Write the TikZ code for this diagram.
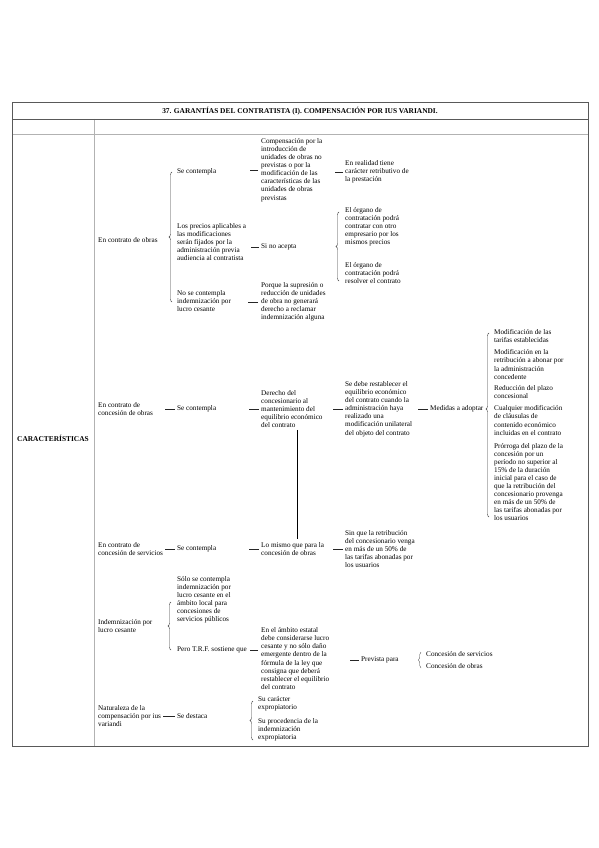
\documentclass[tikz,border=0pt]{standalone}
\usepackage{fontspec}
\setmainfont{Liberation Serif}
\usetikzlibrary{decorations.pathreplacing,calc}
\begin{document}
\begin{tikzpicture}[x=1pt,y=-1pt,
  txt/.style={font=\fontsize{7.2}{8.1}\selectfont, inner sep=0pt, anchor=west, align=left},
  hd/.style={font=\bfseries\fontsize{7.4}{9}\selectfont, inner sep=0pt},
  stub/.style={draw=black!85, line width=0.5pt},
  brc/.style={draw=black!75, line width=0.4pt, decorate, decoration={brace, amplitude=3pt}},
  frame/.style={draw=black!65, line width=0.7pt},
  grid/.style={draw=black!30, line width=0.5pt},
  vline/.style={draw=black, line width=1pt}]
\useasboundingbox (0,0) rectangle (599,848);
\fill[white] (0,0) rectangle (599,848);
% table
\draw[grid] (94,119) -- (94,746);
\draw[grid] (12,134) -- (588,134);
\draw[frame] (12,119) -- (588,119);
\draw[frame] (12,102) rectangle (588,746);
\node[hd] (title) at (300,111) {37. GARANTÍAS DEL CONTRATISTA (I). COMPENSACIÓN POR IUS VARIANDI.};
\node[hd, anchor=west] (car) at (17,438) {CARACTERÍSTICAS};

% ---- Row 1
\node[txt] (r1) at (98,240) {En contrato de obras};
\node[txt] (r1a) at (177,172) {Se contempla};
\node[txt] (r1b) at (177,242) {Los precios aplicables a\\las modificaciones\\serán fijados por la\\administración previa\\audiencia al contratista};
\node[txt] (r1c) at (177,301) {No se contempla\\indemnización por\\lucro cesante};
\coordinate (b1s) at (172,302); \coordinate (b1e) at (172,172);
\draw[brc] (b1s) -- (b1e);
\node[txt] (r1a1) at (261,170) {Compensación por la\\introducción de\\unidades de obras no\\previstas o por la\\modificación de las\\características de las\\unidades de obras\\previstas};
\draw[stub] ([xshift=-3pt]r1a1.west) -- ++(-8,0);
\node[txt] (r1a2) at (345,172) {En realidad tiene\\carácter retributivo de\\la prestación};
\draw[stub] ([xshift=-2pt]r1a2.west) -- ++(-8,0);
\node[txt] (r1b1) at (261,247) {Si no acepta};
\draw[stub] ([xshift=-2pt]r1b1.west) -- ++(-8,0);
\node[txt] (o1) at (345,227) {El órgano de\\contratación podrá\\contratar con otro\\empresario por los\\mismos precios};
\node[txt] (o2) at (345,273) {El órgano de\\contratación podrá\\resolver el contrato};
\coordinate (b2s) at (339,281); \coordinate (b2e) at (339,212);
\draw[brc] (b2s) -- (b2e);
\node[txt] (r1c1) at (261,302) {Porque la supresión o\\reducción de unidades\\de obra no generará\\derecho a reclamar\\indemnización alguna};
\draw[stub] ([xshift=-3pt]r1c1.west) -- ++(-10,0);

% ---- Row 2
\node[txt] (r2) at (98,409) {En contrato de\\concesión de obras};
\node[txt] (r2a) at (177,409) {Se contempla};
\draw[stub] ([xshift=-2pt]r2a.west) -- ++(-10,0);
\node[txt] (r2b) at (261,409) {Derecho del\\concesionario al\\mantenimiento del\\equilibrio económico\\del contrato};
\draw[stub] ([xshift=-2pt]r2b.west) -- ++(-10,0);
\node[txt] (r2c) at (345,409) {Se debe restablecer el\\equilibrio económico\\del contrato cuando la\\administración haya\\realizado una\\modificación unilateral\\del objeto del contrato};
\draw[stub] ([xshift=-2pt]r2c.west) -- ++(-10,0);
\node[txt] (r2d) at (430,409) {Medidas a adoptar};
\draw[stub] ([xshift=-2pt]r2d.west) -- ++(-10,0);
\coordinate (b3s) at (489,517); \coordinate (b3e) at (489,333);
\draw[brc, decoration={brace, amplitude=3pt, aspect=0.587}] (b3s) -- (b3e);
\node[txt] (m1) at (494,336) {Modificación de las\\tarifas establecidas};
\node[txt] (m2) at (494,364.5) {Modificación en la\\retribución a abonar por\\la administración\\concedente};
\node[txt] (m3) at (494,392) {Reducción del plazo\\concesional};
\node[txt] (m4) at (494,420.5) {Cualquier modificación\\de cláusulas de\\contenido económico\\incluidas en el contrato};
\node[txt] (m5) at (494,482) {Prórroga del plazo de la\\concesión por un\\período no superior al\\15\% de la duración\\inicial para el caso de\\que la retribución del\\concesionario provenga\\en más de un 50\% de\\las tarifas abonadas por\\los usuarios};

% ---- Row 3
\node[txt] (r3) at (98,549) {En contrato de\\concesión de servicios};
\node[txt] (r3a) at (177,549) {Se contempla};
\draw[stub] ([xshift=-2pt]r3a.west) -- ++(-10,0);
\node[txt] (r3b) at (261,549) {Lo mismo que para la\\concesión de obras};
\draw[stub] ([xshift=-2pt]r3b.west) -- ++(-10,0);
\node[txt] (r3c) at (345,549) {Sin que la retribución\\del concesionario venga\\en más de un 50\% de\\las tarifas abonadas por\\los usuarios};
\draw[stub] ([xshift=-2pt]r3c.west) -- ++(-10,0);
\coordinate (vx) at (297,0);
\draw[vline] ([yshift=-2pt]r2b.south -| vx) -- ([yshift=3pt]r3b.north -| vx);

% ---- Row 4
\node[txt] (r4) at (98,626) {Indemnización por\\lucro cesante};
\node[txt] (r4a) at (177,600) {Sólo se contempla\\indemnización por\\lucro cesante en el\\ámbito local para\\concesiones de\\servicios públicos};
\node[txt] (r4b) at (177,650) {Pero T.R.F. sostiene que};
\coordinate (b4s) at (171,650); \coordinate (b4e) at (171,602);
\draw[brc] (b4s) -- (b4e);
\node[txt] (r4c) at (261,658.5) {En el ámbito estatal\\debe considerarse lucro\\cesante y no sólo daño\\emergente dentro de la\\fórmula de la ley que\\consigna que deberá\\restablecer el equilibrio\\del contrato};
\coordinate (r4cs) at (258,650);
\draw[stub] (r4cs) -- ++(-8,0);
\node[txt] (r4d) at (361,660) {Prevista para};
\draw[stub] ([xshift=-2pt]r4d.west) -- ++(-9,0);
\node[txt] (cs) at (426,654) {Concesión de servicios};
\node[txt] (co) at (426,666) {Concesión de obras};
\coordinate (b5s) at (421,668); \coordinate (b5e) at (421,652);
\draw[brc, decoration={brace, amplitude=2.5pt}] (b5s) -- (b5e);

% ---- Row 5
\node[txt] (r5) at (98,716) {Naturaleza de la\\compensación por ius\\variandi};
\node[txt] (r5a) at (177,716) {Se destaca};
\draw[stub] ([xshift=-2pt]r5a.west) -- ++(-12,0);
\node[txt] (e1) at (258,704) {Su carácter\\expropiatorio};
\node[txt] (e2) at (258,730) {Su procedencia de la\\indemnización\\expropiatoria};
\coordinate (b6s) at (253,740); \coordinate (b6e) at (253,701);
\draw[brc] (b6s) -- (b6e);
\end{tikzpicture}
\end{document}
